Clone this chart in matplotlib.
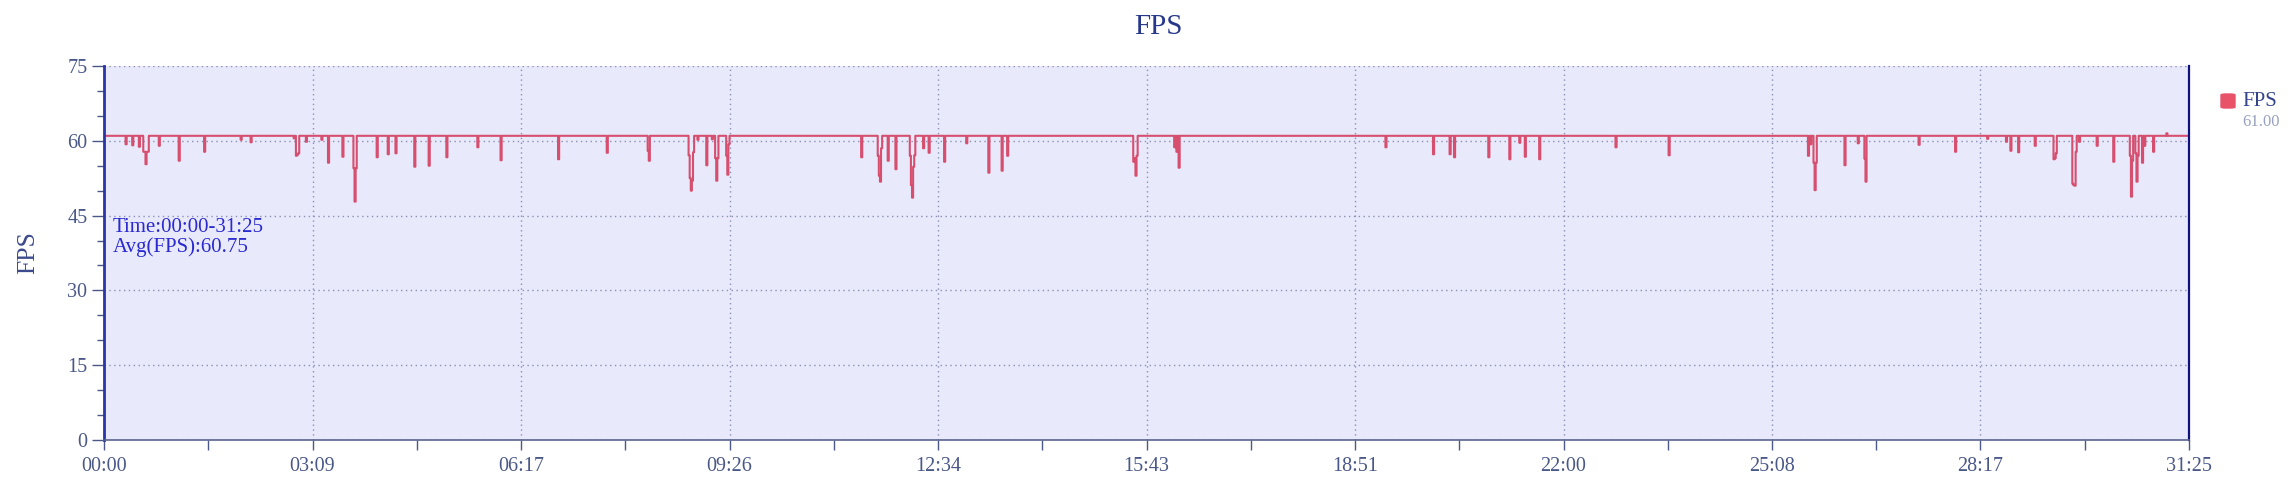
"""FPS timeline recreated from a performance report screenshot."""

import matplotlib

matplotlib.use("Agg")
import matplotlib.pyplot as plt
import numpy as np
from matplotlib.patches import FancyBboxPatch
from matplotlib.ticker import FixedLocator, MultipleLocator

# recording length in seconds (31:25)
duration = 1885
baseline_fps = 61.0

# seconds where the frame rate dropped below the baseline, and the value there
dip_seconds = [
    20, 26, 32, 36, 37, 38, 39, 40, 50, 68, 91, 124, 133, 172, 174, 175, 176,
    183, 197, 203, 216, 226, 227, 228, 247, 257, 264, 281, 294, 310, 338, 359,
    411, 455, 492, 493, 529, 530, 531, 532, 533, 537, 545, 550, 553, 554, 555,
    563, 564, 565, 685, 700, 701, 702, 703, 709, 716, 729, 730, 731, 732, 733,
    741, 746, 760, 780, 800, 812, 817, 931, 932, 933, 934, 968, 970, 972, 1159,
    1202, 1217, 1221, 1252, 1271, 1280, 1285, 1298, 1367, 1415, 1541, 1543,
    1546, 1547, 1548, 1574, 1586, 1592, 1593, 1641, 1674, 1703, 1720, 1724,
    1731, 1746, 1763, 1764, 1765, 1780, 1781, 1782, 1783, 1786, 1802, 1817,
    1832, 1833, 1834, 1837, 1838, 1839, 1843, 1845, 1853, 1865,
]
dip_fps = [
    59.3, 59.1, 58.8, 57.8, 57.8, 55.3, 57.8, 57.8, 59.0, 56.0, 57.8, 60.2, 59.7,
    60.5, 57.0, 57.2, 57.5, 59.8, 60.2, 55.6, 56.8, 54.5, 47.8, 54.5, 56.7, 57.3,
    57.5, 54.8, 55.0, 56.7, 58.7, 56.1, 56.3, 57.6, 58.0, 56.0, 57.1, 52.5, 50.0,
    52.0, 57.7, 60.2, 55.1, 60.3, 56.5, 52.0, 56.5, 57.0, 53.2, 59.3, 56.7, 57.0,
    53.0, 51.8, 58.5, 56.0, 54.3, 57.0, 51.1, 48.6, 54.8, 57.1, 58.5, 57.6, 55.8,
    59.5, 53.6, 54.0, 57.0, 55.8, 56.5, 53.0, 57.0, 58.7, 57.8, 54.6, 58.7, 57.3,
    57.3, 56.7, 56.7, 56.3, 59.6, 56.8, 56.3, 58.7, 57.1, 57.0, 59.3, 55.6, 50.1,
    55.6, 55.1, 59.5, 56.4, 51.8, 59.2, 57.8, 60.4, 59.8, 58.0, 57.7, 59.0, 56.3,
    56.5, 57.5, 51.4, 51.1, 51.0, 57.8, 59.8, 59.0, 55.8, 57.0, 48.8, 56.0, 57.5,
    51.8, 57.0, 55.6, 59.0, 57.8, 61.5,
]

x_tick_labels = ["00:00", "03:09", "06:17", "09:26", "12:34", "15:43",
                 "18:51", "22:00", "25:08", "28:17", "31:25"]
avg_fps = 60.75
last_fps = 61.00

seconds = np.arange(duration + 1)
fps = np.full(seconds.shape, baseline_fps)
fps[dip_seconds] = dip_fps

line_color = "#d64f6f"
tick_color = "#4a5888"
font = "Liberation Serif"

fig = plt.figure(figsize=(22.93, 4.98), dpi=100)
ax = fig.add_axes([104 / 2293, 1 - 440 / 498, 2085 / 2293, 374 / 498])
ax.set_facecolor("#e9e9fc")

ax.plot(seconds, fps, color=line_color, linewidth=1.5, drawstyle="steps-mid")

ax.set_xlim(0, duration)
ax.set_ylim(0, 75)
major_x = np.linspace(0, duration, 11)
ax.xaxis.set_major_locator(FixedLocator(major_x))
ax.xaxis.set_minor_locator(FixedLocator(major_x[:-1] + duration / 20))
ax.set_xticklabels(x_tick_labels)
ax.yaxis.set_major_locator(MultipleLocator(15))
ax.yaxis.set_minor_locator(MultipleLocator(5))

ax.grid(True, which="major", color="#8a90b4", linestyle=(0, (1, 2.5)), linewidth=1)
ax.set_axisbelow(True)

ax.spines["top"].set_visible(False)
ax.spines["left"].set_color("#2a35a8")
ax.spines["left"].set_linewidth(2)
ax.spines["right"].set_color("#10107a")
ax.spines["right"].set_linewidth(1.6)
ax.spines["bottom"].set_color("#5a6590")
ax.spines["bottom"].set_linewidth(1.2)

ax.tick_params(axis="both", which="both", colors=tick_color, labelsize=14.5)
ax.tick_params(axis="y", which="major", length=9, width=1, pad=3)
ax.tick_params(axis="y", which="minor", length=5, width=1)
ax.tick_params(axis="x", which="both", length=7, width=1, pad=5)
for label in ax.get_xticklabels() + ax.get_yticklabels():
    label.set_fontfamily(font)
    label.set_color(tick_color)

ax.set_ylabel("FPS", fontfamily=font, fontsize=18.5, color="#3c4a8c", labelpad=20)

ax.text(0.004, 0.594, f"Time:{x_tick_labels[0]}-{x_tick_labels[-1]}\nAvg(FPS):{avg_fps:.2f}",
        transform=ax.transAxes, ha="left", va="top", fontfamily=font,
        fontsize=15, color="#2a2ad0", linespacing=1.0)

fig.text(1158 / 2293, 1 - 27 / 498, "FPS", ha="center", va="center",
         fontfamily=font, fontsize=21, color="#27378a")

# legend drawn by hand: swatch, series name and last value
fig.patches.append(FancyBboxPatch((2221 / 2293, 1 - 108 / 498), 14 / 2293, 14 / 498,
                                  boxstyle="round,pad=0,rounding_size=0.002",
                                  transform=fig.transFigure, color="#e8536a"))
fig.text(2242 / 2293, 1 - 101 / 498, "FPS", ha="left", va="center",
         fontfamily=font, fontsize=15, color="#34448a")
fig.text(2242 / 2293, 1 - 122 / 498, f"{last_fps:.2f}", ha="left", va="center",
         fontfamily=font, fontsize=12, color="#98a2c0")

fig.savefig("out.png", dpi=100)
plt.close(fig)
